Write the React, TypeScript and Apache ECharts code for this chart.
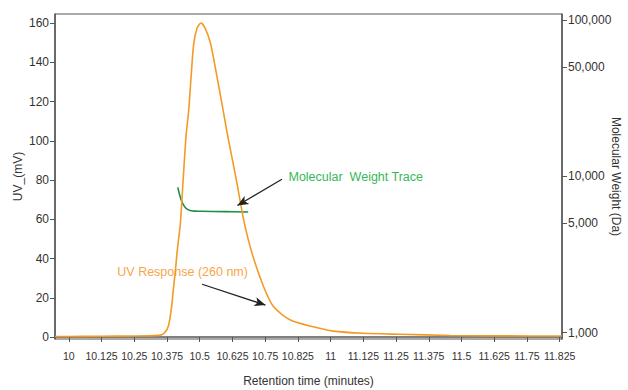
import React, { useEffect, useRef } from "react";
import * as echarts from "echarts";

// Tick labels as printed on the reference (evenly spaced)
const tickLabels = ["10", "10.125", "10.25", "10.375", "10.5", "10.625", "10.75", "10.825", "11", "11.125", "11.25", "11.375", "11.5", "11.625", "11.75", "11.825"];
const tickPositions = tickLabels.map((_, i) => 10 + i * 0.125);

const uvTicks = [0, 20, 40, 60, 80, 100, 120, 140, 160];
const mwTicks = [1000, 5000, 10000, 50000, 100000];

// UV response (260 nm)
const uvTime = [9.947, 10.0, 10.125, 10.25, 10.33, 10.355, 10.369, 10.38, 10.387, 10.393, 10.399, 10.407, 10.414, 10.426, 10.437, 10.448, 10.458, 10.467, 10.477, 10.49, 10.505, 10.52, 10.541, 10.566, 10.589, 10.609, 10.64, 10.668, 10.7, 10.744, 10.782, 10.846, 10.934, 11.01, 11.125, 11.266, 11.457, 11.65, 11.884];
const uvValues = [0.3, 0.3, 0.4, 0.5, 0.7, 1.2, 2.7, 5.5, 10.3, 16, 24, 34, 44, 58, 81, 103, 115.7, 132.6, 149.5, 157.5, 160, 157.5, 149.7, 132.6, 115.7, 101, 80, 59.6, 42.6, 25.6, 15.4, 8.7, 5.2, 3.0, 1.9, 1.4, 0.8, 0.6, 0.5];

// Molecular weight trace (Da)
const mwTime = [10.416, 10.429, 10.438, 10.449, 10.464, 10.48, 10.503, 10.6, 10.685];
const mwValues = [8510, 7060, 6560, 6220, 6050, 5990, 5980, 5950, 5915];

// Annotations (data coordinates on the UV axis)
const mwLabel = { text: "Molecular  Weight Trace", at: [10.839, 81.7], from: [10.814, 80.4], to: [10.644, 67.0] };
const uvLabel = { text: "UV Response (260 nm)", at: [10.185, 33.0], from: [10.509, 26.9], to: [10.751, 16.3] };

const FONT = "'Liberation Sans', Arial, sans-serif";
const ORANGE = "#F39A26";
const ORANGE_TEXT = "#F7A54A";
const GREEN_LINE = "#1E8C45";
const GREEN_TEXT = "#35B85A";
const AXIS = "#555";
const TEXT = "#333";

export default function App() {
  const ref = useRef<HTMLDivElement>(null);
  useEffect(() => {
    const chart = echarts.init(ref.current!, null, { renderer: "svg" });
    const labelStyle = { color: TEXT, fontFamily: FONT, fontSize: 12 };
    chart.setOption({
      animation: false,
      grid: {
        left: 55, right: 66, top: 14, bottom: 51,
        containLabel: false, outerBoundsMode: "none",
        show: true, borderColor: AXIS, borderWidth: 1,
      },
      xAxis: {
        type: "value",
        min: 9.947,
        max: 11.884,
        name: "Retention time (minutes)",
        nameLocation: "middle",
        nameGap: 36,
        nameMoveOverlap: false,
        nameTextStyle: { ...labelStyle },
        axisLine: { lineStyle: { color: AXIS, width: 1.5 } },
        axisTick: { show: true, length: 5, lineStyle: { color: AXIS }, customValues: tickPositions },
        axisLabel: {
          ...labelStyle,
          fontSize: 10.5,
          margin: 11,
          hideOverlap: false,
          customValues: tickPositions,
          formatter: (v: number) => {
            const i = tickPositions.findIndex((p) => Math.abs(p - v) < 1e-6);
            return i >= 0 ? tickLabels[i] : "";
          },
        },
        splitLine: { show: false },
      },
      yAxis: [
        {
          type: "value",
          min: -1,
          max: 164.6,
          name: "UV_(mV)",
          nameLocation: "middle",
          nameGap: 31,
          nameMoveOverlap: false,
          nameTextStyle: { ...labelStyle },
          axisLine: { show: true, lineStyle: { color: AXIS, width: 1.5 } },
          axisTick: { show: true, length: 5, lineStyle: { color: AXIS }, customValues: uvTicks },
          axisLabel: { ...labelStyle, margin: 6, customValues: uvTicks },
          splitLine: { show: false },
        },
        {
          type: "log",
          logBase: 10,
          min: 911,
          max: 109300,
          position: "right",
          name: "Molecular Weight (Da)",
          nameLocation: "middle",
          nameGap: 48,
          nameRotate: -90,
          nameMoveOverlap: false,
          nameTextStyle: { ...labelStyle },
          axisLine: { show: true, lineStyle: { color: AXIS, width: 1.5 } },
          axisTick: { show: true, length: 5, lineStyle: { color: AXIS }, customValues: mwTicks },
          axisLabel: {
            ...labelStyle,
            margin: 6,
            customValues: mwTicks,
            formatter: (v: number) => Math.round(v).toLocaleString("en-US"),
          },
          splitLine: { show: false },
        },
      ],
      series: [
        {
          type: "line",
          yAxisIndex: 0,
          data: uvTime.map((t, i) => [t, uvValues[i]]),
          smooth: 0.25,
          showSymbol: false,
          lineStyle: { color: ORANGE, width: 1.6 },
          z: 3,
          markLine: {
            silent: true,
            symbol: ["none", "arrow"],
            symbolSize: [7, 11],
            label: { show: false },
            lineStyle: { color: "#222", width: 1.3, type: "solid" },
            data: [
              [{ coord: mwLabel.from }, { coord: mwLabel.to }],
              [{ coord: uvLabel.from }, { coord: uvLabel.to }],
            ],
          },
        },
        {
          type: "line",
          yAxisIndex: 1,
          data: mwTime.map((t, i) => [t, mwValues[i]]),
          smooth: 0.4,
          showSymbol: false,
          lineStyle: { color: GREEN_LINE, width: 1.6 },
          z: 2,
        },
      ],
    });
    const p1 = chart.convertToPixel({ xAxisIndex: 0, yAxisIndex: 0 }, mwLabel.at) as number[];
    const p2 = chart.convertToPixel({ xAxisIndex: 0, yAxisIndex: 0 }, uvLabel.at) as number[];
    chart.setOption({
      graphic: [
        {
          type: "text",
          x: p1[0],
          y: p1[1],
          style: { text: mwLabel.text, fill: GREEN_TEXT, font: `12.5px ${FONT}`, verticalAlign: "middle", align: "left" },
        },
        {
          type: "text",
          x: p2[0],
          y: p2[1],
          style: { text: uvLabel.text, fill: ORANGE_TEXT, font: `12.5px ${FONT}`, verticalAlign: "middle", align: "left" },
        },
      ],
    });
    return () => chart.dispose();
  }, []);
  return <div ref={ref} style={{ width: 628, height: 390, position: "absolute", left: 0, top: 0 }} />;
}
